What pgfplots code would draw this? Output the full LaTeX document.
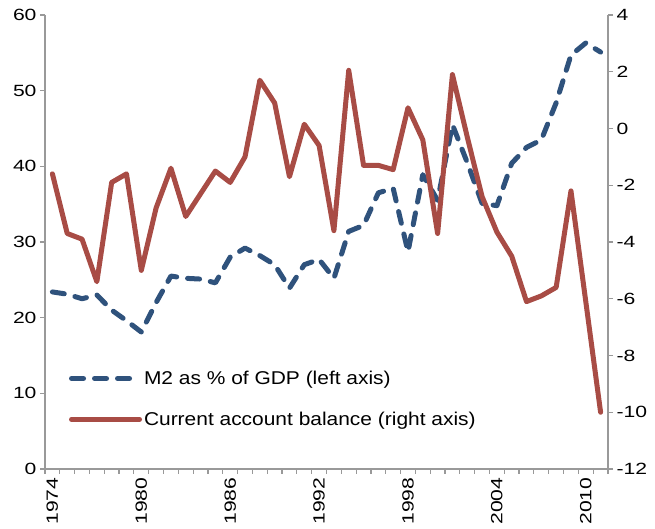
\documentclass[border=0pt]{standalone}
\usepackage{pgfplots}
\usepackage{pgfplotstable}
\pgfplotsset{compat=1.18}
\usepackage{fontspec}
\setmainfont{Liberation Sans}
\newfontfamily\tickfont{Liberation Sans}[FakeStretch=1.3]
\newfontfamily\legfont{Liberation Sans}[FakeStretch=1.13]
\definecolor{mblue}{RGB}{47,82,124}
\definecolor{cred}{RGB}{168,76,69}
\definecolor{axgray}{RGB}{153,153,153}

\pgfplotstableread{
year m2 ca
1974 23.4 -1.6
1975 23.1 -3.7
1976 22.5 -3.9
1977 23.0 -5.4
1978 21.0 -1.9
1979 19.6 -1.6
1980 18.1 -5.0
1981 22.0 -2.8
1982 25.5 -1.4
1983 25.2 -3.1
1984 25.1 -2.3
1985 24.6 -1.5
1986 28.0 -1.9
1987 29.2 -1.0
1988 28.2 1.7
1989 27.0 0.9
1990 23.9 -1.7
1991 27.0 0.15
1992 27.7 -0.6
1993 25.2 -3.6
1994 31.4 2.05
1995 32.2 -1.3
1996 36.5 -1.3
1997 37.1 -1.45
1998 28.7 0.73
1999 38.9 -0.4
2000 35.5 -3.7
2001 45.5 1.9
2002 40.5 -0.3
2003 35.1 -2.4
2004 34.8 -3.65
2005 40.4 -4.5
2006 42.5 -6.1
2007 43.5 -5.9
2008 48.4 -5.6
2009 54.7 -2.2
2010 56.3 -6.1
2011 55.1 -10.0
}\data

\begin{document}
\begin{tikzpicture}
\pgfplotsset{
  base/.style={
    scale only axis, width=563bp, height=454bp,
    xmin=1973.5, xmax=2011.5,
    axis line style={axgray, line width=1.5bp, -},
    tick style={axgray, line width=1.2bp},
    tick align=outside, major tick length=5bp, minor tick length=5bp,
    tick label style={font=\tickfont\fontsize{16.3}{18}\selectfont, black},
    /pgf/number format/assume math mode=true,
  }
}
\begin{axis}[base, name=ax1,
  ymin=0, ymax=60, ytick={0,10,...,60},
  axis y line*=left, axis x line*=bottom,
  xtick={1974,1980,...,2010},
  major x tick style={draw=none},
  minor xtick={1973.5,1974.5,...,2011.5},
  xticklabel style={rotate=90, anchor=east, /pgf/number format/1000 sep={}},
  legend style={draw=none, fill=none, at={(0.037,0.225)}, anchor=north west,
    font=\legfont\fontsize{18.6}{22}\selectfont, row sep=22bp},
  legend cell align=left,
  legend image code/.code={\draw[#1] (0bp,0bp) -- (68bp,0bp);},
]
\addplot[mblue, line width=5bp, dash pattern=on 12bp off 11bp, line cap=round, line join=round]
  table[x=year, y=m2] {\data};
\addlegendentry{M2 as \% of GDP (left axis)}
\addlegendimage{cred, line width=5bp, line cap=round}
\addlegendentry{Current account balance (right axis)}
\end{axis}
\begin{axis}[base,
  ymin=-12, ymax=4, ytick={-12,-10,...,4},
  axis y line*=right, axis x line=none,
]
\addplot[cred, line width=5bp, line cap=round, line join=round]
  table[x=year, y=ca] {\data};
\end{axis}
\path ([xshift=-45bp,yshift=-60bp]ax1.south west) rectangle ([xshift=47bp,yshift=15bp]ax1.north east);
\end{tikzpicture}
\end{document}
